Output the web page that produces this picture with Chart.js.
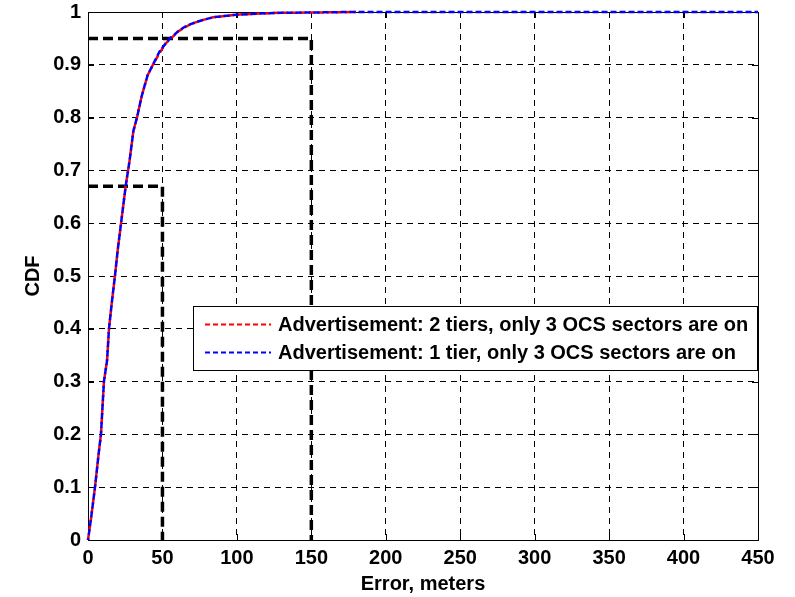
<!DOCTYPE html>
<html><head><meta charset="utf-8">
<script src="https://cdn.jsdelivr.net/npm/chart.js@4.4.1/dist/chart.umd.min.js"></script>
<style>html,body{margin:0;padding:0;background:#fff}canvas{display:block}</style>
</head><body>
<canvas id="c" width="795" height="597"></canvas>
<script>
// ---- data ----
const seriesLabels = [
  'Advertisement: 2 tiers, only 3 OCS sectors are on',
  'Advertisement: 1 tier, only 3 OCS sectors are on'
];
const errorRed = [0, 2, 4.7, 7, 8.7, 10.7, 12.8, 14.1, 16, 18.1, 20, 22.2, 25.3, 28, 30.5, 32.9, 36, 40, 43.6, 48, 52, 55, 58, 60, 65, 69, 76, 84, 100, 115, 129, 150, 180];
const cdfRed   = [0, 0.04, 0.10, 0.16, 0.20, 0.30, 0.34, 0.40, 0.45, 0.50, 0.55, 0.60, 0.67, 0.72, 0.775, 0.80, 0.84, 0.88, 0.90, 0.922, 0.94, 0.948, 0.956, 0.962, 0.971, 0.977, 0.984, 0.99, 0.995, 0.997, 0.9985, 0.999, 1];
const errorBlue = [0, 2, 4.7, 7, 8.7, 10.7, 12.8, 14.1, 16, 18.1, 20, 22.2, 25.3, 28, 30.5, 32.9, 36, 40, 43.6, 48, 52, 55, 58, 60, 65, 69, 76, 84, 100, 115, 129, 150, 175, 200, 250, 300, 350, 400, 450];
const cdfBlue   = [0, 0.04, 0.10, 0.16, 0.20, 0.30, 0.34, 0.40, 0.45, 0.50, 0.55, 0.60, 0.67, 0.72, 0.775, 0.80, 0.84, 0.88, 0.90, 0.925, 0.94, 0.95, 0.957, 0.962, 0.972, 0.977, 0.984, 0.99, 0.995, 0.997, 0.9985, 0.999, 1, 1, 1, 1, 1, 1, 1];
const ref67X = [0, 50, 50];
const ref67Y = [0.67, 0.67, 0];
const ref95X = [0, 150, 150];
const ref95Y = [0.95, 0.95, 0];
const xTickValues = [0, 50, 100, 150, 200, 250, 300, 350, 400, 450];
const yTickValues = [0, 0.1, 0.2, 0.3, 0.4, 0.5, 0.6, 0.7, 0.8, 0.9, 1];
const yTickLabels = ['0', '0.1', '0.2', '0.3', '0.4', '0.5', '0.6', '0.7', '0.8', '0.9', '1'];
const xTitle = 'Error, meters';
const yTitle = 'CDF';

const pts = (xs, ys) => xs.map((x, i) => ({x: x, y: ys[i]}));
const FONT = '"Liberation Sans", Arial, sans-serif';

const framePlugin = {
  id: 'frame',
  beforeDatasetsDraw(chart) {
    const ctx = chart.ctx, a = chart.chartArea;
    const xs = chart.scales.x, ys = chart.scales.y;
    ctx.save();
    ctx.strokeStyle = '#000';
    ctx.lineWidth = 1;
    ctx.setLineDash([]);
    ctx.beginPath();
    const tl = 6;
    xTickValues.forEach(v => {
      const px = Math.round(xs.getPixelForValue(v)) + 0.5;
      ctx.moveTo(px, a.bottom); ctx.lineTo(px, a.bottom - tl);
      ctx.moveTo(px, a.top); ctx.lineTo(px, a.top + tl);
    });
    yTickValues.forEach(v => {
      const py = Math.round(ys.getPixelForValue(v)) + 0.5;
      ctx.moveTo(a.left, py); ctx.lineTo(a.left + tl, py);
      ctx.moveTo(a.right, py); ctx.lineTo(a.right - tl, py);
    });
    ctx.stroke();
    ctx.strokeRect(Math.round(a.left) + 0.5, Math.round(a.top) + 0.5, Math.round(a.right - a.left), Math.round(a.bottom - a.top));
    ctx.restore();
  },
  afterDraw(chart) {
    const ctx = chart.ctx, a = chart.chartArea;
    const bx = 193.5, by = 306.5, bw = a.right - 193 - 1, bh = 64;
    ctx.save();
    ctx.fillStyle = '#fff';
    ctx.fillRect(bx, by, bw, bh);
    ctx.strokeStyle = '#000';
    ctx.lineWidth = 1;
    ctx.strokeRect(bx, by, bw, bh);
    ctx.font = 'bold 20px ' + FONT;
    ctx.textBaseline = 'middle';
    ctx.fillStyle = '#000';
    [0, 1].forEach(i => {
      const ds = chart.data.datasets[i];
      const y = by + 18 + i * 28;
      ctx.strokeStyle = ds.borderColor;
      ctx.lineWidth = 2;
      ctx.setLineDash([5, 3]);
      ctx.beginPath();
      ctx.moveTo(205, y); ctx.lineTo(271, y);
      ctx.stroke();
      ctx.setLineDash([]);
      ctx.fillText(ds.label, 278, y + 1);
    });
    ctx.restore();
  }
};

new Chart(document.getElementById('c'), {
  type: 'scatter',
  data: {
    datasets: [
      {label: seriesLabels[0], data: pts(errorRed, cdfRed), showLine: true, borderColor: '#ff0000', backgroundColor: '#ff0000', borderWidth: 2.5, borderDash: [6, 3], pointRadius: 0, order: 1, clip: 4},
      {label: seriesLabels[1], data: pts(errorBlue, cdfBlue), showLine: true, borderColor: '#0000ff', backgroundColor: '#0000ff', borderWidth: 2.5, borderDash: [6, 3], borderDashOffset: 4, pointRadius: 0, order: 0, clip: 4},
      {label: 'ref67', data: pts(ref67X, ref67Y), showLine: true, borderColor: '#000', borderWidth: 3.5, borderDash: [10, 5], pointRadius: 0, order: 3},
      {label: 'ref95', data: pts(ref95X, ref95Y), showLine: true, borderColor: '#000', borderWidth: 3.5, borderDash: [10, 5], pointRadius: 0, order: 3}
    ]
  },
  options: {
    responsive: false,
    animation: false,
    devicePixelRatio: 1,
    layout: {padding: {left: 0, top: 12, right: 37, bottom: 0}},
    plugins: {legend: {display: false}, tooltip: {enabled: false}},
    scales: {
      x: {
        type: 'linear', min: 0, max: 450,
        afterBuildTicks: s => { s.ticks = xTickValues.map(v => ({value: v})); },
        afterFit: s => { s.height = 57; s.paddingLeft = 0; s.paddingRight = 0; },
        grid: {color: '#000', lineWidth: 1, drawTicks: false},
        border: {display: false, dash: [6, 5]},
        ticks: {color: '#000', padding: 6, maxRotation: 0, font: {family: FONT, size: 20, weight: 'bold'}},
        title: {display: true, text: xTitle, color: '#000', padding: {top: 0, bottom: 1}, font: {family: FONT, size: 20, weight: 'bold'}}
      },
      y: {
        type: 'linear', min: 0, max: 1,
        afterBuildTicks: s => { s.ticks = yTickValues.map(v => ({value: v})); },
        afterFit: s => { s.width = 88; s.paddingTop = 0; s.paddingBottom = 0; },
        grid: {color: '#000', lineWidth: 1, drawTicks: false},
        border: {display: false, dash: [6, 5]},
        ticks: {color: '#000', padding: 7, font: {family: FONT, size: 20, weight: 'bold'},
          callback: (v, i) => yTickLabels[i]},
        title: {display: true, text: yTitle, color: '#000', padding: {top: 21, bottom: 0}, font: {family: FONT, size: 20, weight: 'bold'}}
      }
    }
  },
  plugins: [framePlugin]
});
</script>
</body></html>
